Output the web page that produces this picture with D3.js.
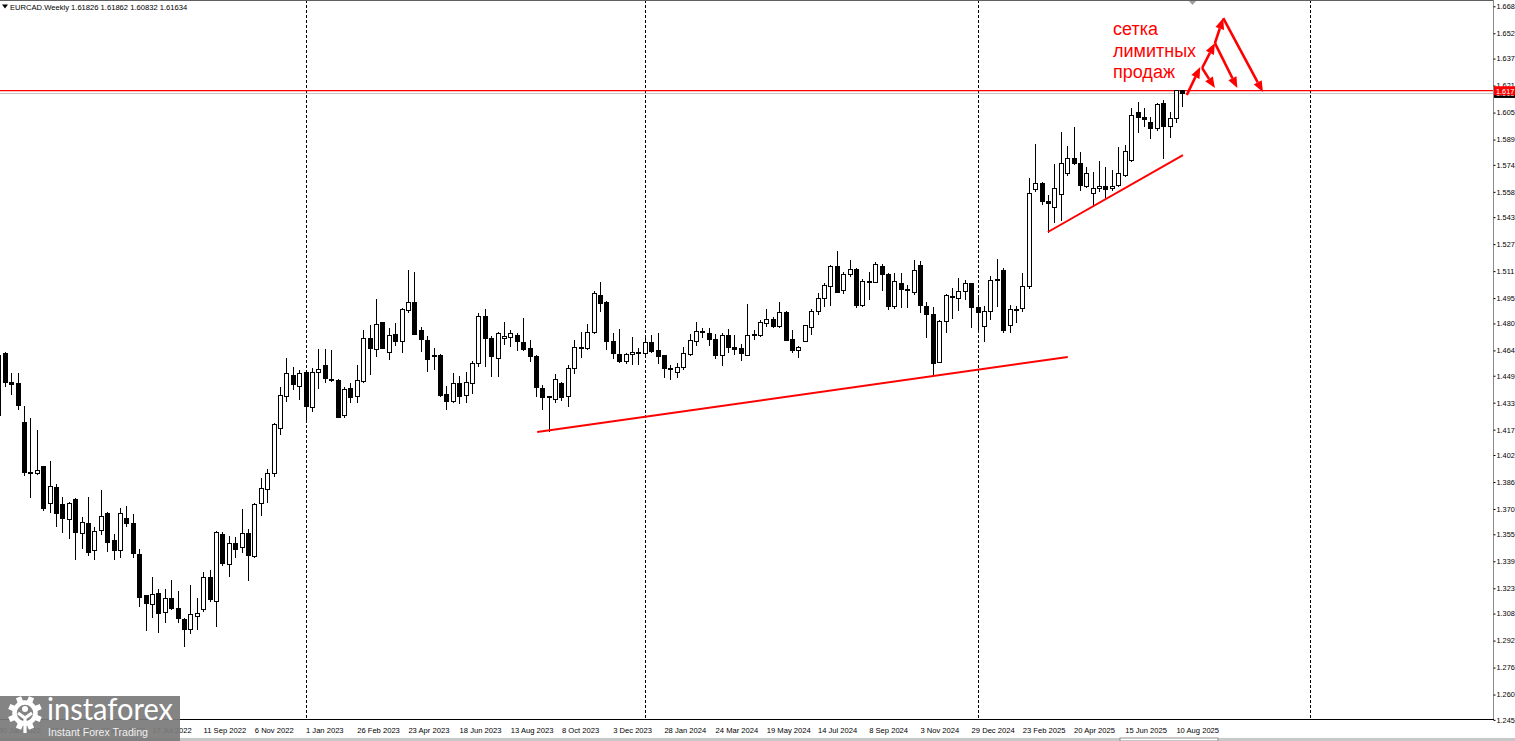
<!DOCTYPE html>
<html><head><meta charset="utf-8">
<script src="https://cdn.jsdelivr.net/npm/d3@7"></script>
<style>html,body{margin:0;padding:0;background:#fff;overflow:hidden}svg{display:block}</style>
</head><body>
<svg id="c" width="1515" height="741"></svg>
<script>
// ---------- data ----------
const symbolTitle = "EURCAD.Weekly";
const lastQuote = ["1.61826", "1.61862", "1.60832", "1.61634"];
const firstWeek = "2022-01-30";
const opens = [1.4256,1.4624,1.4452,1.4446,1.4215,1.3919,1.3913,1.3949,1.3735,1.3830,1.3729,1.3640,1.3759,1.3557,1.3616,1.3451,1.3575,1.3676,1.3516,1.3451,
1.3646,1.3616,1.3433,1.3190,1.3136,1.3201,1.3089,1.3172,1.3113,1.3042,1.2988,1.3060,1.3107,1.3291,1.3154,1.3551,1.3368,1.3498,1.3469,1.3557,
1.3421,1.3735,1.3818,1.3913,1.4180,1.4369,1.4494,1.4429,1.4512,1.4304,1.4512,1.4553,1.4470,1.4464,1.4256,1.4417,1.4364,1.4458,1.4713,1.4648,
1.4803,1.4630,1.4737,1.4695,1.4879,1.4927,1.4761,1.4701,1.4601,1.4607,1.4381,1.4340,1.4446,1.4375,1.4446,1.4565,1.4844,1.4713,1.4595,1.4713,
1.4719,1.4731,1.4684,1.4654,1.4601,1.4417,1.4364,1.4352,1.4446,1.4364,1.4530,1.4660,1.4654,1.4749,1.4968,1.4927,1.4690,1.4618,1.4577,1.4618,
1.4630,1.4624,1.4684,1.4642,1.4607,1.4530,1.4512,1.4541,1.4618,1.4695,1.4755,1.4743,1.4707,1.4612,1.4731,1.4660,1.4654,1.4612,1.4731,1.4731,
1.4797,1.4826,1.4779,1.4867,1.4707,1.4642,1.4695,1.4773,1.4873,1.4945,1.5016,1.5140,1.4998,1.5093,1.5122,1.4909,1.5045,1.5045,1.5140,1.5093,
1.4903,1.5039,1.5004,1.4986,1.5146,1.4903,1.4850,1.4571,1.4809,1.4956,1.4945,1.4992,1.5034,1.4897,1.4779,1.4873,1.5063,1.5116,1.4785,1.4885,
1.4891,1.5016,1.5591,1.5632,1.5525,1.5490,1.5567,1.5691,1.5780,1.5751,1.5609,1.5573,1.5597,1.5609,1.5597,1.5620,1.5674,1.5763,1.6053,1.6023,
1.5994,1.5958,1.6101,1.5970,1.6017,1.61826];
const highs = [1.4630,1.4630,1.4506,1.4506,1.4310,1.4239,1.4168,1.3953,1.3984,1.3848,1.3771,1.3741,1.3765,1.3652,1.3771,1.3593,1.3812,1.3680,1.3551,1.3706,
1.3717,1.3670,1.3463,1.3192,1.3297,1.3225,1.3225,1.3279,1.3213,1.3054,1.3249,1.3172,1.3326,1.3338,1.3568,1.3563,1.3539,1.3533,1.3700,1.3581,
1.3735,1.3884,1.3937,1.4209,1.4423,1.4595,1.4541,1.4524,1.4524,1.4535,1.4648,1.4648,1.4642,1.4470,1.4423,1.4446,1.4553,1.4761,1.4791,1.4945,
1.4809,1.4773,1.4803,1.4891,1.5116,1.5104,1.4779,1.4725,1.4654,1.4618,1.4429,1.4506,1.4488,1.4512,1.4577,1.4861,1.4885,1.4725,1.4749,1.4809,
1.4761,1.4743,1.4832,1.4701,1.4612,1.4435,1.4369,1.4500,1.4452,1.4553,1.4701,1.4749,1.4797,1.4992,1.5045,1.4933,1.4743,1.4767,1.4624,1.4719,
1.4654,1.4725,1.4731,1.4743,1.4612,1.4553,1.4565,1.4660,1.4737,1.4809,1.4773,1.4773,1.4737,1.4743,1.4767,1.4731,1.4678,1.4915,1.4761,1.4820,
1.4885,1.4838,1.4927,1.4873,1.4761,1.4666,1.4791,1.4885,1.4980,1.5039,1.5146,1.5229,1.5104,1.5176,1.5128,1.5063,1.5104,1.5164,1.5152,1.5099,
1.5099,1.5099,1.5028,1.5176,1.5170,1.4927,1.4897,1.4820,1.4974,1.5010,1.5069,1.5057,1.5039,1.4950,1.4903,1.5081,1.5182,1.5128,1.4909,1.4903,
1.5099,1.5662,1.5863,1.5638,1.5561,1.5745,1.5934,1.5852,1.5964,1.5816,1.5727,1.5697,1.5763,1.5727,1.5709,1.5846,1.5857,1.6077,1.6112,1.6077,
1.6023,1.6106,1.6124,1.6053,1.6186,1.61862];
const lows = [1.4239,1.4423,1.4375,1.4286,1.3895,1.3765,1.3901,1.3688,1.3676,1.3593,1.3557,1.3522,1.3397,1.3463,1.3421,1.3397,1.3545,1.3445,1.3397,1.3409,
1.3593,1.3409,1.3119,1.2976,1.3054,1.2964,1.3024,1.3101,1.3024,1.2882,1.2958,1.2982,1.3089,1.3148,1.3000,1.3362,1.3297,1.3409,1.3439,1.3273,
1.3409,1.3658,1.3735,1.3889,1.4138,1.4334,1.4405,1.4346,1.4227,1.4274,1.4411,1.4446,1.4452,1.4239,1.4239,1.4328,1.4328,1.4446,1.4494,1.4601,
1.4648,1.4583,1.4666,1.4624,1.4861,1.4731,1.4630,1.4512,1.4524,1.4364,1.4286,1.4328,1.4322,1.4328,1.4381,1.4541,1.4541,1.4482,1.4482,1.4672,
1.4660,1.4636,1.4636,1.4571,1.4364,1.4286,1.4156,1.4328,1.4340,1.4304,1.4500,1.4595,1.4642,1.4737,1.4867,1.4642,1.4589,1.4565,1.4559,1.4553,
1.4553,1.4601,1.4624,1.4559,1.4476,1.4464,1.4476,1.4524,1.4607,1.4666,1.4713,1.4666,1.4589,1.4547,1.4624,1.4612,1.4577,1.4607,1.4701,1.4719,
1.4779,1.4773,1.4773,1.4695,1.4624,1.4595,1.4690,1.4731,1.4850,1.4897,1.4903,1.4980,1.4974,1.5075,1.4891,1.4897,1.4939,1.5039,1.4992,1.4879,
1.4885,1.4891,1.4891,1.4968,1.4861,1.4713,1.4488,1.4565,1.4743,1.4826,1.4873,1.4939,1.4773,1.4743,1.4690,1.4820,1.4897,1.4743,1.4743,1.4803,
1.4867,1.5004,1.5579,1.5502,1.5336,1.5395,1.5407,1.5674,1.5739,1.5585,1.5603,1.5490,1.5579,1.5543,1.5585,1.5609,1.5668,1.5757,1.5929,1.5964,
1.5893,1.5940,1.5774,1.5899,1.5988,1.60832];
const closes = [1.4612,1.4452,1.4440,1.4316,1.3919,1.3913,1.3931,1.3700,1.3836,1.3676,1.3646,1.3735,1.3563,1.3622,1.3445,1.3569,1.3658,1.3504,1.3451,1.3676,
1.3616,1.3439,1.3178,1.3142,1.3196,1.3083,1.3172,1.3113,1.3048,1.2988,1.3077,1.3083,1.3291,1.3166,1.3563,1.3374,1.3498,1.3457,1.3557,1.3427,
1.3729,1.3824,1.3913,1.4203,1.4375,1.4506,1.4435,1.4506,1.4310,1.4512,1.4524,1.4476,1.4464,1.4245,1.4411,1.4358,1.4464,1.4713,1.4654,1.4791,
1.4654,1.4731,1.4690,1.4885,1.4927,1.4737,1.4707,1.4589,1.4612,1.4375,1.4340,1.4446,1.4364,1.4452,1.4565,1.4844,1.4713,1.4601,1.4743,1.4725,
1.4743,1.4690,1.4648,1.4601,1.4423,1.4358,1.4358,1.4470,1.4358,1.4535,1.4660,1.4654,1.4749,1.4980,1.4921,1.4690,1.4624,1.4577,1.4618,1.4630,
1.4624,1.4684,1.4636,1.4601,1.4530,1.4524,1.4541,1.4624,1.4701,1.4755,1.4749,1.4707,1.4612,1.4731,1.4660,1.4648,1.4624,1.4731,1.4737,1.4803,
1.4826,1.4779,1.4867,1.4701,1.4642,1.4660,1.4785,1.4873,1.4945,1.5022,1.5140,1.4986,1.5093,1.5122,1.4909,1.5051,1.5051,1.5152,1.5093,1.4903,
1.5051,1.5004,1.4998,1.5116,1.4909,1.4850,1.4565,1.4814,1.4968,1.4962,1.4992,1.5034,1.4897,1.4867,1.4873,1.5057,1.5057,1.4761,1.4885,1.4879,
1.5016,1.5573,1.5632,1.5525,1.5508,1.5597,1.5751,1.5780,1.5751,1.5620,1.5686,1.5597,1.5614,1.5591,1.5614,1.5691,1.5822,1.6035,1.6023,1.6006,
1.5958,1.6095,1.5970,1.6017,1.6180,1.61634];
const priceTicks = [1.668,1.652,1.637,1.621,1.605,1.589,1.574,1.558,1.543,1.527,1.511,1.495,1.480,1.464,
1.449,1.433,1.417,1.402,1.386,1.370,1.355,1.339,1.323,1.308,1.292,1.276,1.260,1.245];
const dateTicks = ["30 Jan 2022","27 Mar 2022","22 May 2022","17 Jul 2022","11 Sep 2022","6 Nov 2022","1 Jan 2023",
"26 Feb 2023","23 Apr 2023","18 Jun 2023","13 Aug 2023","8 Oct 2023","3 Dec 2023","28 Jan 2024","24 Mar 2024",
"19 May 2024","14 Jul 2024","8 Sep 2024","3 Nov 2024","29 Dec 2024","23 Feb 2025","20 Apr 2025","15 Jun 2025","10 Aug 2025"];
const yearSeparators = ["2023-01-01","2024-01-07","2025-01-05","2026-01-04"];
const hLinePrice = 1.61795;        // red horizontal line
const bidPrice = 1.61634;          // last close
// trend lines: [bar index, price]
const trendLines = [[[84.2,1.4156],[167.1,1.4601]], [[164.0,1.5342],[185.1,1.5798]]];
// arrows of the "sell limit grid" drawing: [bar index, price] from -> to
const gridArrows = [
  [[185.7,1.6154],[187.8,1.6320]],
  [[188.1,1.6314],[190.1,1.6195]],
  [[188.1,1.6314],[190.1,1.6462]],
  [[190.1,1.6462],[193.6,1.6195]],
  [[190.1,1.6462],[191.4,1.6610]],
  [[191.4,1.6610],[197.6,1.6172]]
];
const noteLines = ["сетка","лимитных","продаж"];

// ---------- chart ----------
const svg = d3.select("#c");
const plotR = 1493, plotB = 719;
const FONT = "'Liberation Sans', Arial, sans-serif";
const parseISO = d3.utcParse("%Y-%m-%d");
const t0 = parseISO(firstWeek);
const x = d3.scaleUtc().domain([t0, parseISO("2023-01-01")]).range([-1.7, 305.5]);
const y = d3.scaleLinear().domain([1.245, 1.668]).range([719.85, 6.29]);
const idxDate = i => new Date(t0.getTime() + i * 7 * 864e5);
const bars = opens.map((o, i) => ({date: d3.utcWeek.offset(t0, i), o, h: highs[i], l: lows[i], c: closes[i]}));
const trunc3 = p => (Math.floor(p * 1000 + 1e-6) / 1000).toFixed(3);

svg.append("rect").attr("width",1515).attr("height",741).attr("fill","#fff");
svg.append("defs").append("clipPath").attr("id","pc").append("rect")
  .attr("x",0).attr("y",0).attr("width",plotR).attr("height",plotB);
const plot = svg.append("g").attr("clip-path","url(#pc)");

// period separators
plot.selectAll("line.sep").data(yearSeparators).join("line")
  .attr("x1",d=>Math.round(x(parseISO(d)))+0.5).attr("x2",d=>Math.round(x(parseISO(d)))+0.5)
  .attr("y1",0).attr("y2",plotB).attr("stroke","#000").attr("stroke-width",1)
  .attr("stroke-dasharray","3,2");

// bid line + red horizontal line
plot.append("line").attr("x1",0).attr("x2",plotR).attr("y1",y(bidPrice)).attr("y2",y(bidPrice))
  .attr("stroke","#c0c0c0").attr("stroke-width",1);
plot.append("line").attr("x1",0).attr("x2",plotR).attr("y1",y(hLinePrice)).attr("y2",y(hLinePrice))
  .attr("stroke","#ff0000").attr("stroke-width",1.3);

// candles
const cg = plot.append("g");
const cx = d => Math.round(x(d.date)) + 0.5;
cg.selectAll("line.w").data(bars).join("line")
  .attr("x1",cx).attr("x2",cx).attr("y1",d=>y(d.h)).attr("y2",d=>y(d.l))
  .attr("stroke","#000").attr("stroke-width",1).attr("shape-rendering","crispEdges");
cg.selectAll("rect.b").data(bars).join("rect")
  .attr("x",d=>cx(d)-2).attr("width",4)
  .attr("y",d=>y(Math.max(d.o,d.c)))
  .attr("height",d=>Math.max(Math.abs(y(d.o)-y(d.c)),0.6))
  .attr("fill",d=>d.c>=d.o?"#fff":"#000").attr("stroke","#000").attr("stroke-width",1)
  .attr("shape-rendering","crispEdges");

// trend lines
plot.selectAll("line.tr").data(trendLines).join("line")
  .attr("x1",d=>x(idxDate(d[0][0]))).attr("y1",d=>y(d[0][1]))
  .attr("x2",d=>x(idxDate(d[1][0]))).attr("y2",d=>y(d[1][1]))
  .attr("stroke","#ff0000").attr("stroke-width",2);

// arrows
const ag = plot.append("g");
gridArrows.forEach(a => {
  const x1 = x(idxDate(a[0][0])), y1 = y(a[0][1]), x2 = x(idxDate(a[1][0])), y2 = y(a[1][1]);
  const ang = Math.atan2(y2-y1, x2-x1), L = 11, Wd = 4.5;
  const bx = x2 - L*Math.cos(ang), by = y2 - L*Math.sin(ang);
  ag.append("line").attr("x1",x1).attr("y1",y1).attr("x2",bx).attr("y2",by)
    .attr("stroke","#ff0000").attr("stroke-width",2.6);
  ag.append("path").attr("fill","#ff0000")
    .attr("d",`M${x2},${y2}L${bx - Wd*Math.sin(ang)},${by + Wd*Math.cos(ang)}L${bx + Wd*Math.sin(ang)},${by - Wd*Math.cos(ang)}Z`);
});

// note text
plot.selectAll("text.note").data(noteLines).join("text")
  .attr("x",1113).attr("y",(d,i)=>35+i*21.5)
  .attr("font-family",FONT).attr("font-size",18)
  .attr("fill","#ff0000").text(d=>d);

// shift marker
svg.append("path").attr("d","M1188,0L1197,0L1192.5,5Z").attr("fill","#a0a0a0");

// frame
svg.append("line").attr("x1",0).attr("x2",plotR).attr("y1",0.5).attr("y2",0.5).attr("stroke","#606060");
svg.append("line").attr("x1",plotR+0.5).attr("x2",plotR+0.5).attr("y1",0).attr("y2",plotB+1).attr("stroke","#8c8c8c");
svg.append("line").attr("x1",0).attr("x2",plotR+1).attr("y1",plotB+0.5).attr("y2",plotB+0.5).attr("stroke","#000");

// right price axis
const yAxis = d3.axisRight(y).tickValues(priceTicks).tickFormat(d3.format(".3f")).tickSize(2).tickPadding(1);
const ya = svg.append("g").attr("transform",`translate(${plotR+0.5},0)`).call(yAxis);
ya.select(".domain").remove();
ya.selectAll("line").attr("stroke","#000");
ya.selectAll("text").attr("font-family",FONT).attr("font-size",7.3).attr("fill","#000");

// price labels on axis
const lab = (p, bg) => {
  const g = svg.append("g");
  g.append("rect").attr("x",plotR+1).attr("y",y(p)-4.5).attr("width",22).attr("height",9).attr("fill",bg);
  g.append("text").attr("x",plotR+3).attr("y",y(p)+2.8).attr("font-family",FONT)
    .attr("font-size",7.3).attr("fill","#fff").text(trunc3(p));
};
lab(bidPrice, "#000");
lab(hLinePrice, "#ff0000");

// time axis
const parseLab = d3.utcParse("%d %b %Y");
const xAxis = d3.axisBottom(x).tickValues(dateTicks.map(parseLab)).tickFormat(d3.utcFormat("%-d %b %Y")).tickSize(0).tickPadding(9);
const xa = svg.append("g").attr("transform",`translate(0,${plotB})`).call(xAxis);
xa.select(".domain").remove();
xa.selectAll("text").attr("text-anchor","start").attr("font-family",FONT)
  .attr("font-size",7.6).attr("fill","#000");

// header
svg.append("path").attr("d","M2,4.5L8,4.5L5,8.5Z").attr("fill","#000");
svg.append("text").attr("x",10).attr("y",10).attr("font-family",FONT)
  .attr("font-size",7.6).attr("fill","#000").text(symbolTitle + "  " + lastQuote.join(" "));

// bottom strip
svg.append("rect").attr("x",0).attr("y",738).attr("width",1515).attr("height",3).attr("fill","#c8c8c8");
svg.append("rect").attr("x",1120).attr("y",738).attr("width",98).attr("height",3).attr("fill","#fff")
  .attr("stroke","#909090").attr("stroke-width",1);

// logo
const logo = svg.append("g");
logo.append("rect").attr("x",0).attr("y",696).attr("width",180).attr("height",45).attr("fill","#7b7b7b").attr("opacity",0.93);
const gc = [25, 713];
for (let k = 0; k < 8; k++) {
  logo.append("rect").attr("x",gc[0]-2.8).attr("y",gc[1]-17).attr("width",5.6).attr("height",6)
    .attr("fill","#fff").attr("transform",`rotate(${k*45+22.5},${gc[0]},${gc[1]})`);
}
logo.append("circle").attr("cx",gc[0]).attr("cy",gc[1]).attr("r",10.5).attr("fill","none").attr("stroke","#fff").attr("stroke-width",4.5);
logo.append("circle").attr("cx",gc[0]).attr("cy",gc[1]-4).attr("r",3).attr("fill","#fff");
logo.append("path").attr("d",`M${gc[0]-7},${gc[1]}L${gc[0]},${gc[1]+5}L${gc[0]+7},${gc[1]}M${gc[0]},${gc[1]+5}L${gc[0]},${gc[1]+20}`)
  .attr("stroke","#fff").attr("stroke-width",3.2).attr("fill","none");
logo.append("text").attr("x",47).attr("y",720).attr("font-family","Lato, 'Open Sans', sans-serif").attr("font-weight",400)
  .attr("font-size",30).attr("fill","#fff").attr("textLength",126).attr("lengthAdjust","spacingAndGlyphs").text("instaforex");
logo.append("text").attr("x",48).attr("y",736).attr("font-family",FONT)
  .attr("font-size",11).attr("fill","#f0f0f0").attr("textLength",100).attr("lengthAdjust","spacingAndGlyphs").text("Instant Forex Trading");
</script>
</body></html>
